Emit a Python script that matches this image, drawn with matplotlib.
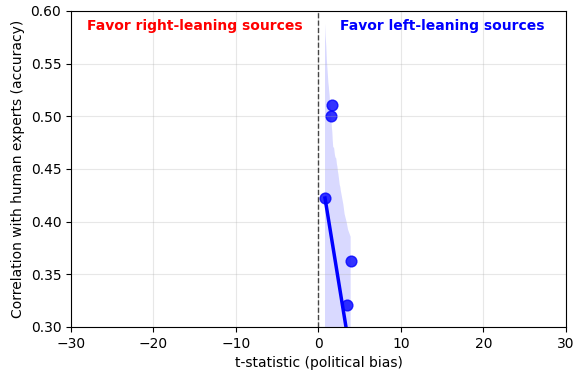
import numpy as np
import pandas as pd
import matplotlib
matplotlib.use('Agg')
import matplotlib.pyplot as plt
import seaborn as sns

# t-statistic (political bias) vs correlation with human experts
# the last two models fall below the y-limit but still enter the fit
t_stat = [1.67, 1.55, 0.79, 3.90, 3.42, 1.50, 3.13]
accuracy = [0.511, 0.500, 0.422, 0.363, 0.321, 0.208, 0.130]

df = pd.DataFrame({'t_stat': t_stat, 'accuracy': accuracy})

fig, ax = plt.subplots(figsize=(5.74, 3.74), dpi=100)
fig.subplots_adjust(left=0.1237, right=0.986, top=0.9706, bottom=0.1257)

sns.regplot(data=df, x='t_stat', y='accuracy', ax=ax, color='blue',
            scatter_kws={'s': 60, 'alpha': 0.8}, line_kws={'linewidth': 2.5},
            seed=2)

ax.axvline(0, color='black', linestyle='--', linewidth=1, alpha=0.7)
ax.text(-15, 0.586, 'Favor right-leaning sources', color='red',
        fontweight='bold', fontsize=10, ha='center', va='center')
ax.text(15, 0.586, 'Favor left-leaning sources', color='blue',
        fontweight='bold', fontsize=10, ha='center', va='center')

ax.set_xlim(-30, 30)
ax.set_ylim(0.30, 0.60)
ax.set_xlabel('t-statistic (political bias)')
ax.set_ylabel('Correlation with human experts (accuracy)')
ax.grid(True, alpha=0.3)

fig.savefig('out.png', dpi=100)
